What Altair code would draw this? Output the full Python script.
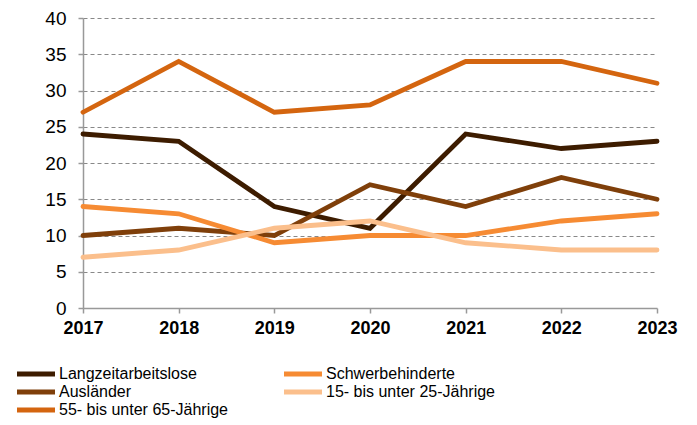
import altair as alt
import pandas as pd

years = [2017, 2018, 2019, 2020, 2021, 2022, 2023]
series_names = ["Langzeitarbeitslose", "Ausländer", "55- bis unter 65-Jährige",
                "Schwerbehinderte", "15- bis unter 25-Jährige"]
langzeit = [24, 23, 14, 11, 24, 22, 23]
auslaender = [10, 11, 10, 17, 14, 18, 15]
alt55 = [27, 34, 27, 28, 34, 34, 31]
schwerb = [14, 13, 9, 10, 10, 12, 13]
jung = [7, 8, 11, 12, 9, 8, 8]
colors = ["#3d1c00", "#7f3f0a", "#d4650f", "#f68b33", "#fbbf8c"]

values = [langzeit, auslaender, alt55, schwerb, jung]
rows = []
for name, vals in zip(series_names, values):
    for y, v in zip(years, vals):
        rows.append({"Jahr": str(y), "Wert": v, "Serie": name})
df = pd.DataFrame(rows)

chart = alt.Chart(df).mark_line(strokeWidth=4.8, strokeCap="round", strokeJoin="miter").encode(
    x=alt.X("Jahr:O", title=None,
            scale=alt.Scale(type="point", padding=0),
            axis=alt.Axis(labelAngle=0, labelFont="Liberation Sans", labelFontSize=18,
                          labelFontWeight="bold", labelColor="black", labelPadding=6,
                          domainColor="#999999", domainWidth=1.5, tickColor="#999999",
                          tickWidth=1.5, tickSize=5, grid=False)),
    y=alt.Y("Wert:Q", title=None,
            scale=alt.Scale(domain=[0, 40], nice=False),
            axis=alt.Axis(values=[0, 5, 10, 15, 20, 25, 30, 35, 40],
                          labelFont="Liberation Sans", labelFontSize=19, labelColor="black",
                          labelPadding=12, domainColor="#999999", domainWidth=1.5,
                          tickColor="#999999", tickWidth=1.5, tickSize=5,
                          grid=True, gridColor="#888888", gridDash=[4, 3], gridWidth=1)),
    color=alt.Color("Serie:N", sort=series_names,
                    scale=alt.Scale(domain=series_names, range=colors),
                    legend=alt.Legend(title=None, orient="none", legendX=-55, legendY=348,
                                      columns=2, columnPadding=46, rowPadding=-2,
                                      symbolType="M-4.75,0H4.75", symbolSize=64,
                                      symbolStrokeWidth=5, labelFont="Liberation Sans",
                                      labelFontSize=16, labelColor="black", labelOffset=15,
                                      labelLimit=300)),
    order=alt.Order("Jahr:O"),
).properties(
    width=574, height=290,
    autosize=alt.AutoSizeParams(type="none"),
    padding={"left": 75, "top": 10, "right": 30, "bottom": 110},
).configure_view(stroke=None)

chart.save("out.html", embed_options={"renderer": "svg", "actions": False})
